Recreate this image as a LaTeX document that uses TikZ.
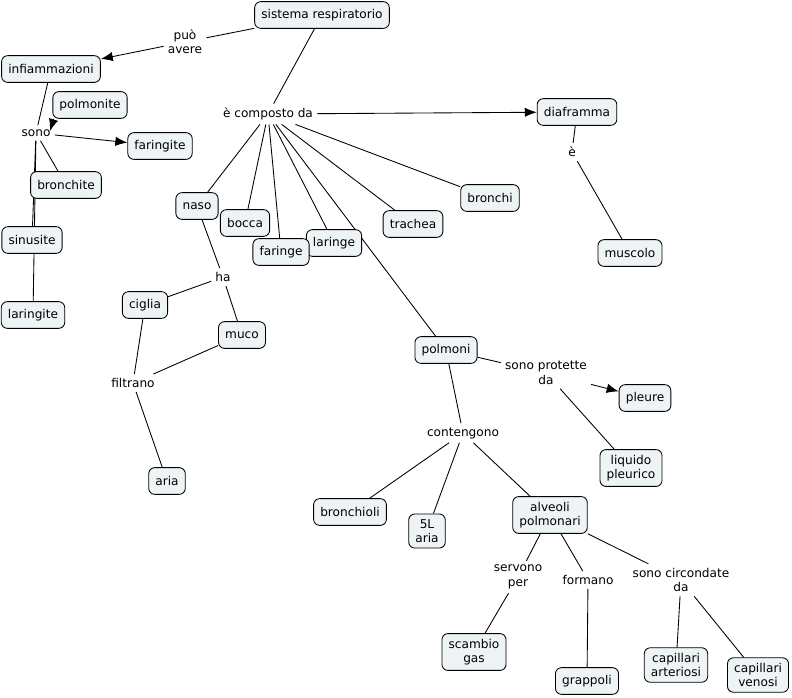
\documentclass[tikz,border=0pt]{standalone}
\usepackage{fontspec}
\setmainfont{DejaVu Sans}
\usetikzlibrary{arrows.meta,backgrounds}
\definecolor{cfill}{HTML}{EEF3F5}
\tikzset{
  concept/.style={draw, fill=cfill, rounded corners=4.5pt, align=center,
    inner xsep=5pt, inner ysep=4pt, minimum height=20pt, line width=0.65pt},
  link/.style={align=center, inner sep=3pt},
  conn/.style={line width=0.65pt},
  arr/.style={conn, -{Latex[length=9pt,width=7pt]}}
}
\begin{document}
\begin{tikzpicture}[x=0.75pt, y=-0.75pt, font=\fontsize{9.1}{10.8}\selectfont]
    \useasboundingbox (0, 0) rectangle (792, 697);

    % concepts
    \node [concept] (sistema) at (322, 15) {sistema respiratorio};
    \node [concept] (infiam) at (51, 69) {infiammazioni};
    \node [concept] (polmonite) at (90, 105) {polmonite};
    \node [concept] (faringite) at (160, 146) {faringite};
    \node [concept] (bronchite) at (66, 185) {bronchite};
    \node [concept] (sinusite) at (32, 240) {sinusite};
    \node [concept] (laringite) at (33, 315) {laringite};
    \node [concept] (naso) at (197, 206) {naso};
    \node [concept] (bocca) at (245, 223) {bocca};
    \node [concept] (laringe) at (334, 243) {laringe};
    \node [concept] (faringe) at (281, 252) {faringe};
    \node [concept] (trachea) at (413, 224) {trachea};
    \node [concept] (bronchi) at (490, 198) {bronchi};
    \node [concept] (diaframma) at (577, 112) {diaframma};
    \node [concept] (muscolo) at (630, 253) {muscolo};
    \node [concept] (ciglia) at (145, 305) {ciglia};
    \node [concept] (muco) at (242, 335) {muco};
    \node [concept] (aria) at (167, 481) {aria};
    \node [concept] (polmoni) at (446, 350) {polmoni};
    \node [concept] (pleure) at (645, 398) {pleure};
    \node [concept] (liquido) at (631, 468) {liquido\\pleurico};
    \node [concept] (bronchioli) at (350, 512) {bronchioli};
    \node [concept] (cinqueL) at (427, 531) {5L\\aria};
    \node [concept] (alveoli) at (550, 515) {alveoli\\polmonari};
    \node [concept] (scambio) at (474, 652) {scambio\\gas};
    \node [concept] (grappoli) at (587, 681) {grappoli};
    \node [concept] (arteriosi) at (676, 665) {capillari\\arteriosi};
    \node [concept] (venosi) at (758, 675) {capillari\\venosi};

    % linking phrases
    \node [link] (puo) at (185, 42) {può\\avere};
    \node [link] (composto) at (268, 114) {è composto da};
    \node [link] (sono) at (36, 133) {sono};
    \node [link] (e) at (572, 152) {è};
    \node [link] (ha) at (223, 277) {ha};
    \node [link] (filtrano) at (133, 383) {filtrano};
    \node [link] (protette) at (546, 373) {sono protette\\da};
    \node [link] (contengono) at (463, 433) {contengono};
    \node [link] (servono) at (518, 577) {servono\\per};
    \node [link] (formano) at (588, 580) {formano};
    \node [link] (circondate) at (681, 580) {sono circondate\\da};

    \coordinate (sonotip) at (50, 131);

    \begin{scope}[on background layer]
    \draw [conn] (sistema) -- (puo);
    \draw [arr] (puo) -- (infiam);
    \draw [conn] (sistema) -- (composto);
    \draw [arr] (composto) -- (diaframma);
    \foreach \t in {naso, bocca, faringe, laringe, trachea, bronchi, polmoni}
      \draw [conn] (composto) -- (\t);

    \draw [conn] (infiam) -- (sono);
    \draw [arr] ([xshift=1pt]polmonite.south west) -- (sonotip);
    \draw [arr] (sono) -- (faringite);
    \foreach \t in {bronchite, sinusite, laringite}
      \draw [conn] (sono) -- (\t);

    \draw [conn] (diaframma) -- (e) -- (muscolo);

    \draw [conn] (naso) -- (ha);
    \draw [conn] (ha) -- (ciglia);
    \draw [conn] (ha) -- (muco);
    \draw [conn] (ciglia) -- (filtrano);
    \draw [conn] (muco) -- (filtrano);
    \draw [conn] (filtrano) -- (aria);

    \draw [conn] (polmoni) -- (protette);
    \draw [arr] (protette) -- (pleure);
    \draw [conn] (protette) -- (liquido);
    \draw [conn] (polmoni) -- (contengono);
    \foreach \t in {bronchioli, cinqueL, alveoli}
      \draw [conn] (contengono) -- (\t);

    \draw [conn] (alveoli) -- (servono) -- (scambio);
    \draw [conn] (alveoli) -- (formano) -- (grappoli);
    \draw [conn] (alveoli) -- (circondate);
    \draw [conn] (circondate) -- (arteriosi);
    \draw [conn] (circondate) -- (venosi);
    \end{scope}
  \end{tikzpicture}
\end{document}
